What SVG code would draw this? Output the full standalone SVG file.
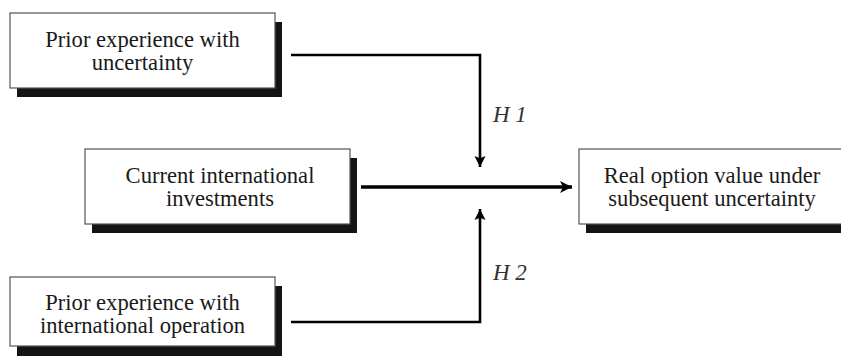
<svg xmlns="http://www.w3.org/2000/svg" width="841" height="356" viewBox="0 0 841 356">
<defs>
<style>
.box{fill:#fff;stroke:#555;stroke-width:1.2}
.sh{fill:#141414}
.t{font-family:"Liberation Serif",serif;font-size:22.6px;fill:#1a1a1a;text-anchor:middle}
.h{font-family:"Liberation Serif",serif;font-size:23px;font-style:italic;fill:#333}
.ln{fill:none;stroke:#000;stroke-width:2.6}
.main{fill:none;stroke:#000;stroke-width:3.5}
</style>
<marker id="ah" viewBox="0 0 10 10" refX="10" refY="5" markerUnits="userSpaceOnUse" markerWidth="15" markerHeight="12" orient="auto">
<path d="M0,0 L10,5 L0,10 L2.5,5 Z" fill="#000"/>
</marker>
<marker id="av" viewBox="0 0 10 10" refX="10" refY="5" markerUnits="userSpaceOnUse" markerWidth="11" markerHeight="14" orient="auto">
<path d="M0,0 L10,5 L0,10 L2,5 Z" fill="#000"/>
</marker>
</defs>
<rect width="841" height="356" fill="#fff"/>
<g id="connectors">
<polyline class="ln" points="291,55 480,55 480,167" marker-end="url(#av)"/>
<polyline class="ln" points="291,322 480,322 480,209" marker-end="url(#av)"/>
<line class="main" x1="361" y1="187" x2="572" y2="187" marker-end="url(#ah)"/>
<text class="h" x="493" y="122">H 1</text>
<text class="h" x="493" y="280">H 2</text>
</g>
<g id="n1">
<rect class="sh" x="17" y="22" width="265" height="75"/>
<rect class="box" x="10" y="13" width="265" height="75"/>
<text class="t" x="142.5" y="47">Prior experience with</text>
<text class="t" x="142.5" y="70">uncertainty</text>
</g>
<g id="n2">
<rect class="sh" x="92" y="158" width="265" height="75"/>
<rect class="box" x="85" y="149" width="265" height="75"/>
<text class="t" x="220" y="183">Current international</text>
<text class="t" x="220" y="206">investments</text>
</g>
<g id="n3">
<rect class="sh" x="17" y="286" width="265" height="75"/>
<rect class="box" x="10" y="277" width="265" height="69"/>
<text class="t" x="142.5" y="310">Prior experience with</text>
<text class="t" x="142.5" y="333">international operation</text>
</g>
<g id="n4">
<rect class="sh" x="586" y="158" width="265" height="75"/>
<rect class="box" x="579" y="149" width="266" height="75"/>
<text class="t" x="712" y="183">Real option value under</text>
<text class="t" x="712" y="206">subsequent uncertainty</text>
</g>
</svg>
